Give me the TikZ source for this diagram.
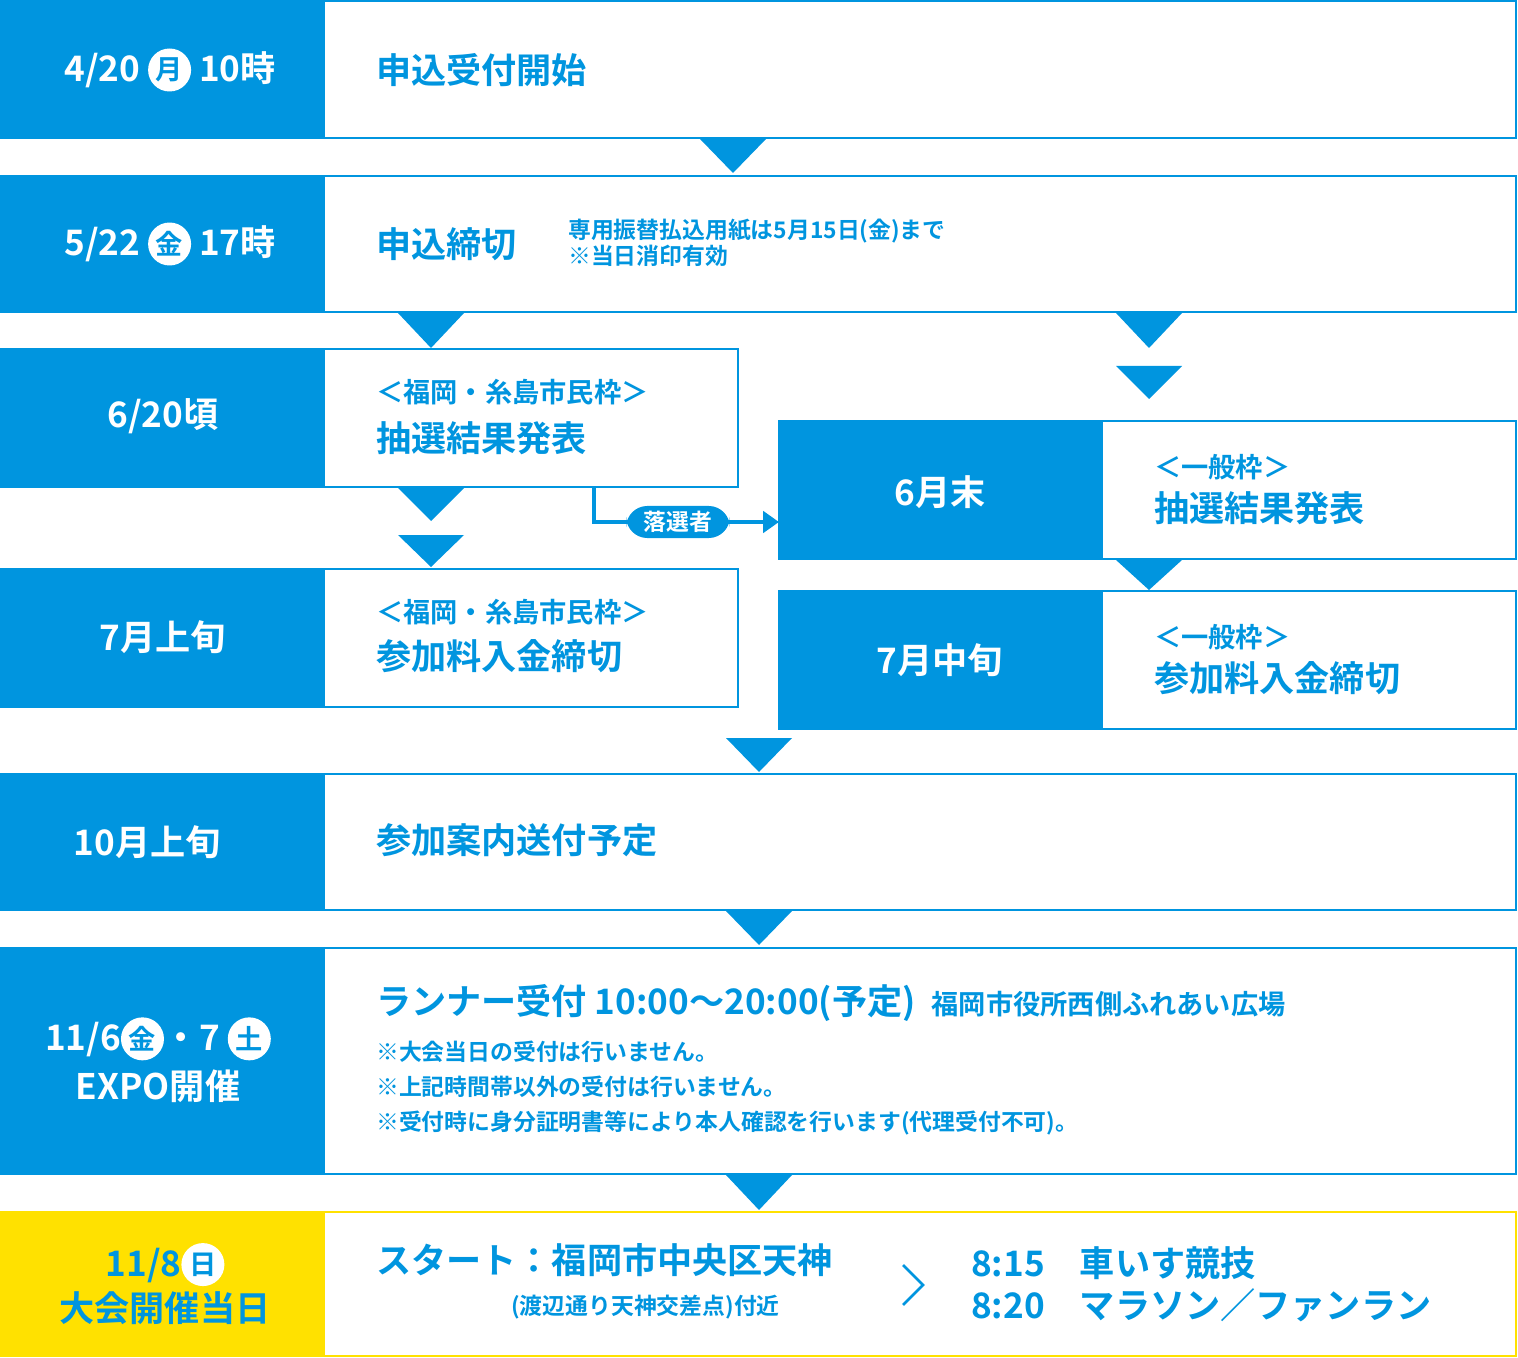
\documentclass[tikz,border=0pt]{standalone}
\usepackage{fontspec}
\setmainfont{Noto Sans CJK JP}[BoldFont={* Bold}]
\usetikzlibrary{arrows.meta,positioning}
\definecolor{fblue}{HTML}{0095DF}
\definecolor{fyellow}{HTML}{FFE100}
\newcommand{\fbig}{\fontsize{20}{24}\selectfont\bfseries}
\newcommand{\fmid}{\fontsize{15.5}{19}\selectfont\bfseries}
\newcommand{\fsml}{\fontsize{13}{17}\selectfont\bfseries}
\newcommand{\dayc}[1]{\tikz[baseline=-0.6ex]\node[circle,fill=white,inner sep=0pt,minimum size=0.86cm,text=fblue]{\fmid #1};}
\begin{document}
\begin{tikzpicture}[x=0.02cm,y=-0.02cm,
  datebox/.style={fill=fblue,draw=fblue,line width=1.5pt},
  infobox/.style={fill=white,draw=fblue,line width=1.5pt},
  datetext/.style={text=white,align=center,font=\fbig},
  infotext/.style={text=fblue,anchor=west,align=left,font=\fbig},
  tri/.style={fill=fblue}]
\useasboundingbox (0,0) rectangle (1518,1358);
\newcommand{\tridown}[3]{\fill[tri] (#1-33,#2) -- (#1+33,#2) -- (#1,#3) -- cycle;}
% row 1
\draw[infobox] (1,1) rectangle (1516,138);
\fill[fblue] (1,1) rectangle (325,138);
\node[datetext] (d1) at (170,70) {4/20 \dayc{月} 10時};
\node[infotext] (t1) at (370,70) {申込受付開始};
\tridown{733}{139}{173}
% row 2
\draw[infobox] (1,176) rectangle (1516,312);
\fill[fblue] (1,176) rectangle (325,312);
\node[datetext] (d2) at (170,244) {5/22 \dayc{金} 17時};
\node[infotext] (t2) at (370,244) {申込締切};
\node[infotext,font=\fsml,text=fblue] (n2) at (562,243) {専用振替払込用紙は5月15日(金)まで\\[-2pt]※当日消印有効};
\tridown{431}{313}{348}
\tridown{1149}{313}{348}
\tridown{1149}{366}{399}
% row 3 left
\draw[infobox] (1,349) rectangle (738,487);
\fill[fblue] (1,349) rectangle (325,487);
\node[datetext] (d3) at (163,416) {6/20頃};
\node[infotext,font=\fmid] (h3) at (370,392) {＜福岡・糸島市民枠＞};
\node[infotext] (t3) at (370,438) {抽選結果発表};
% row 3 right
\draw[infobox] (779,421) rectangle (1516,559);
\fill[fblue] (779,421) rectangle (1103,559);
\node[datetext] (d3r) at (940,492) {6月末};
\node[infotext,font=\fmid] (h3r) at (1148,467) {＜一般枠＞};
\node[infotext] (t3r) at (1148,508) {抽選結果発表};
% loser connector
\coordinate (lsA) at (594,487);
\draw[fblue,line width=2.5pt,-{Triangle[length=9pt,width=12pt]}] (lsA) |- (779,522);
\node[fill=fblue,text=white,rounded corners=12pt,font=\fsml,inner xsep=10pt,inner ysep=3pt] (lose) at (678,522) {落選者};
\tridown{431}{488}{521}
\tridown{431}{535}{567}
\tridown{1149}{560}{590}
% row 4 left
\draw[infobox] (1,569) rectangle (738,707);
\fill[fblue] (1,569) rectangle (325,707);
\node[datetext] (d4) at (163,637) {7月上旬};
\node[infotext,font=\fmid] (h4) at (370,612) {＜福岡・糸島市民枠＞};
\node[infotext] (t4) at (370,656) {参加料入金締切};
% row 4 right
\draw[infobox] (779,591) rectangle (1516,729);
\fill[fblue] (779,591) rectangle (1103,729);
\node[datetext] (d4r) at (940,660) {7月中旬};
\node[infotext,font=\fmid] (h4r) at (1148,637) {＜一般枠＞};
\node[infotext] (t4r) at (1148,678) {参加料入金締切};
\tridown{759}{738}{772}
% row 5
\draw[infobox] (1,774) rectangle (1516,910);
\fill[fblue] (1,774) rectangle (325,910);
\node[datetext] (d5) at (147,842) {10月上旬};
\node[infotext] (t5) at (370,840) {参加案内送付予定};
\tridown{759}{911}{945}
% row 6
\draw[infobox] (1,948) rectangle (1516,1174);
\fill[fblue] (1,948) rectangle (325,1174);
\node[datetext] (d6) at (158,1060) {11/6\dayc{金}・7 \dayc{土}\\[4pt]EXPO開催};
\node[infotext] (t6) at (370,1003) {ランナー受付 10:00〜20:00(予定)\ \ {\fmid 福岡市役所西側ふれあい広場}};
\node[infotext,font=\fsml,align=left] (n6) at (370,1088) {※大会当日の受付は行いません。\\[3pt]※上記時間帯以外の受付は行いません。\\[3pt]※受付時に身分証明書等により本人確認を行います(代理受付不可)。};
\tridown{759}{1175}{1210}
% row 7
\draw[fill=white,draw=fyellow,line width=1.5pt] (1,1212) rectangle (1516,1356);
\fill[fyellow] (1,1212) rectangle (325,1356);
\node[datetext,text=fblue] (d7) at (165,1284) {11/8\tikz[baseline=-0.6ex]\node[circle,fill=white,inner sep=0pt,minimum size=0.86cm,text=fblue]{\fmid 日};\\[2pt]大会開催当日};
\node[infotext] (t7) at (370,1260) {スタート：福岡市中央区天神};
\node[infotext,font=\fsml] (n7) at (505,1307) {(渡辺通り天神交差点)付近};
\draw[fblue,line width=1.5pt] (903,1265) -- (923,1285) -- (903,1305);
\node[infotext,align=left] (t7r) at (965,1284) {8:15\quad 車いす競技\\8:20\quad マラソン／ファンラン};
\end{tikzpicture}
\end{document}
